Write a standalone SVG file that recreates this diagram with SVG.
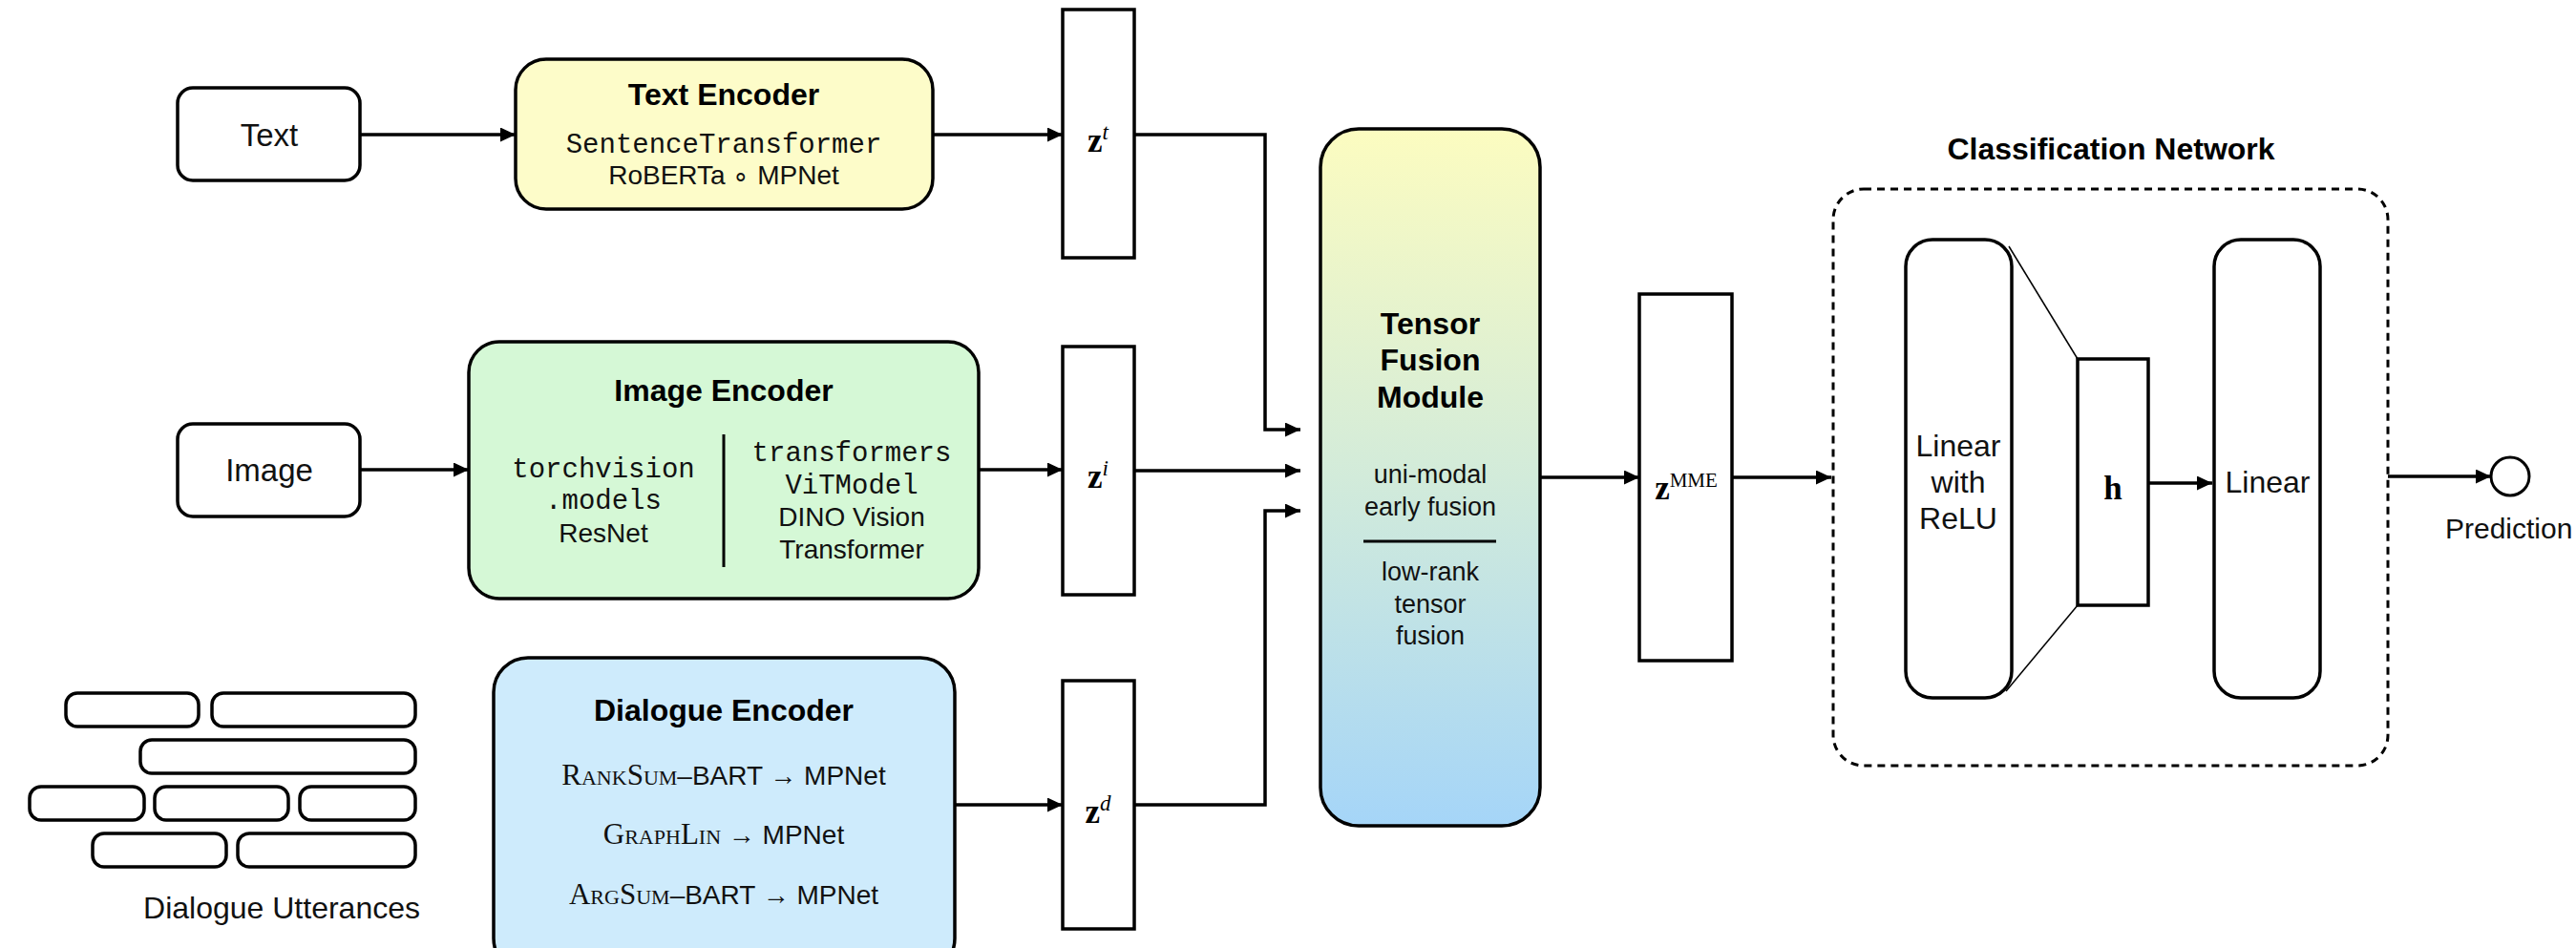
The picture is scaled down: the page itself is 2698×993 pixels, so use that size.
<svg xmlns="http://www.w3.org/2000/svg" width="2698" height="993" viewBox="0 0 2698 993">
<style>
.box{stroke:#000;stroke-width:3.5;}
.wb{fill:#fff;stroke:#000;stroke-width:3.5;}
.conn{fill:none;stroke:#000;stroke-width:3.5;}
.thin{fill:none;stroke:#000;stroke-width:1.5;}
.t{font-family:"Liberation Sans",Arial,sans-serif;font-size:28px;fill:#111;text-anchor:middle;}
.t30{font-size:30px;}
.t32{font-size:32px;}
.t33{font-size:33px;}
.t27{font-size:27px;}
.b{font-family:"Liberation Sans",Arial,sans-serif;font-size:32px;font-weight:bold;fill:#000;text-anchor:middle;}
.m{font-family:"Liberation Mono","DejaVu Sans Mono",monospace;font-size:29px;fill:#111;text-anchor:middle;}
.sc{font-family:"Liberation Serif","Times New Roman",serif;font-variant:small-caps;font-size:31px;}
.z{font-family:"Liberation Serif","Times New Roman",serif;font-size:35px;fill:#000;text-anchor:middle;}
.sup{font-size:23px;font-style:italic;}
.rm{font-size:21px;}
</style>
<defs>
<marker id="arr" markerUnits="userSpaceOnUse" markerWidth="17" markerHeight="16" refX="16" refY="7.5" orient="auto">
<path d="M0,0 L16,7.5 L0,15 z" fill="#000"/>
</marker>
<linearGradient id="fg" x1="0" y1="0" x2="0" y2="1">
<stop offset="0" stop-color="#FCFCC0"/>
<stop offset="0.5" stop-color="#D2EBDA"/>
<stop offset="1" stop-color="#A5D5F8"/>
</linearGradient>
</defs>
<rect width="2698" height="993" fill="#fff"/>

<g id="connectors">
<line class="conn" x1="377" y1="141" x2="540" y2="141" marker-end="url(#arr)"/>
<line class="conn" x1="977" y1="141" x2="1113" y2="141" marker-end="url(#arr)"/>
<line class="conn" x1="377" y1="492" x2="491" y2="492" marker-end="url(#arr)"/>
<line class="conn" x1="1025" y1="492" x2="1113" y2="492" marker-end="url(#arr)"/>
<line class="conn" x1="1000" y1="843" x2="1113" y2="843" marker-end="url(#arr)"/>
<path class="conn" d="M1188,141 H1325 V450 H1362" marker-end="url(#arr)"/>
<path class="conn" d="M1188,493 H1362" marker-end="url(#arr)"/>
<path class="conn" d="M1188,843 H1325 V535 H1362" marker-end="url(#arr)"/>
<path class="conn" d="M1613,500 H1717" marker-end="url(#arr)"/>
<path class="conn" d="M1814,500 H1918" marker-end="url(#arr)"/>
<path class="conn" d="M2250,506 H2317" marker-end="url(#arr)"/>
<path class="conn" d="M2501,499 H2609" marker-end="url(#arr)"/>
<line class="thin" x1="2104" y1="258" x2="2176" y2="376"/>
<line class="thin" x1="2101" y1="724" x2="2176" y2="634"/>
</g>

<g id="text-input">
<rect class="wb" x="186" y="92" width="191" height="97" rx="16"/>
<text class="t t33" x="282" y="153">Text</text>
</g>
<g id="image-input">
<rect class="wb" x="186" y="444" width="191" height="97" rx="16"/>
<text class="t t33" x="282" y="504">Image</text>
</g>

<g id="dialogue-utterances">
<rect class="wb" x="69" y="726" width="139" height="35" rx="12" stroke-width="3"/>
<rect class="wb" x="222" y="726" width="213" height="35" rx="12" stroke-width="3"/>
<rect class="wb" x="147" y="775" width="288" height="35" rx="12" stroke-width="3"/>
<rect class="wb" x="31" y="824" width="120" height="35" rx="12" stroke-width="3"/>
<rect class="wb" x="162" y="824" width="140" height="35" rx="12" stroke-width="3"/>
<rect class="wb" x="314" y="824" width="121" height="35" rx="12" stroke-width="3"/>
<rect class="wb" x="97" y="873" width="140" height="35" rx="12" stroke-width="3"/>
<rect class="wb" x="249" y="873" width="186" height="35" rx="12" stroke-width="3"/>
<text class="t t32" x="295" y="962">Dialogue Utterances</text>
</g>

<g id="text-encoder">
<rect class="box" x="540" y="62" width="437" height="157" rx="32" fill="#FDFCC9"/>
<text class="b" x="758" y="110">Text Encoder</text>
<text class="m" x="758" y="160">SentenceTransformer</text>
<text class="t" x="758" y="193">RoBERTa ∘ MPNet</text>
</g>

<g id="image-encoder">
<rect class="box" x="491" y="358" width="534" height="269" rx="32" fill="#D5F8D6"/>
<text class="b" x="758" y="420">Image Encoder</text>
<line x1="758" y1="455" x2="758" y2="594" stroke="#000" stroke-width="3"/>
<text class="m" x="632" y="500">torchvision</text>
<text class="m" x="632" y="533">.models</text>
<text class="t" x="632" y="568">ResNet</text>
<text class="m" x="892" y="483">transformers</text>
<text class="m" x="892" y="517">ViTModel</text>
<text class="t" x="892" y="551">DINO Vision</text>
<text class="t" x="892" y="585">Transformer</text>
</g>

<g id="dialogue-encoder">
<rect class="box" x="517" y="689" width="483" height="330" rx="36" fill="#CEEBFC"/>
<text class="b" x="758" y="755">Dialogue Encoder</text>
<text class="t" x="758" y="822"><tspan class="sc">RankSum</tspan>–BART → MPNet</text>
<text class="t" x="758" y="884"><tspan class="sc">GraphLin</tspan> → MPNet</text>
<text class="t" x="758" y="947"><tspan class="sc">ArgSum</tspan>–BART → MPNet</text>
</g>

<g id="zt">
<rect class="wb" x="1113" y="10" width="75" height="260"/>
<text class="z" x="1150" y="159"><tspan font-weight="bold">z</tspan><tspan class="sup" dy="-13">t</tspan></text>
</g>
<g id="zi">
<rect class="wb" x="1113" y="363" width="75" height="260"/>
<text class="z" x="1150" y="511"><tspan font-weight="bold">z</tspan><tspan class="sup" dy="-13">i</tspan></text>
</g>
<g id="zd">
<rect class="wb" x="1113" y="713" width="75" height="260"/>
<text class="z" x="1150" y="862"><tspan font-weight="bold">z</tspan><tspan class="sup" dy="-13">d</tspan></text>
</g>

<g id="fusion">
<rect class="box" x="1383" y="135" width="230" height="730" rx="40" fill="url(#fg)"/>
<text class="b" x="1498" y="350">Tensor</text>
<text class="b" x="1498" y="388">Fusion</text>
<text class="b" x="1498" y="427">Module</text>
<text class="t t27" x="1498" y="506">uni-modal</text>
<text class="t t27" x="1498" y="540">early fusion</text>
<line x1="1428" y1="567" x2="1567" y2="567" stroke="#000" stroke-width="3"/>
<text class="t t27" x="1498" y="608">low-rank</text>
<text class="t t27" x="1498" y="642">tensor</text>
<text class="t t27" x="1498" y="675">fusion</text>
</g>

<g id="zmme">
<rect class="wb" x="1717" y="308" width="97" height="384"/>
<text class="z" x="1766" y="523"><tspan font-weight="bold">z</tspan><tspan class="rm" dy="-13">MME</tspan></text>
</g>

<g id="classification-network">
<rect x="1920" y="198" width="581" height="604" rx="32" fill="none" stroke="#000" stroke-width="3" stroke-dasharray="8,6"/>
<text class="b" x="2211" y="167">Classification Network</text>
</g>
<g id="linear-relu">
<rect class="wb" x="1996" y="251" width="111" height="480" rx="28"/>
<text class="t t32" x="2051" y="478">Linear</text>
<text class="t t32" x="2051" y="516">with</text>
<text class="t t32" x="2051" y="554">ReLU</text>
</g>
<g id="h">
<rect class="wb" x="2176" y="376" width="74" height="258"/>
<text class="z" x="2213" y="523" font-weight="bold">h</text>
</g>
<g id="linear">
<rect class="wb" x="2319" y="251" width="111" height="480" rx="28"/>
<text class="t t32" x="2375" y="516">Linear</text>
</g>
<g id="prediction">
<circle cx="2629" cy="499" r="20" fill="#fff" stroke="#000" stroke-width="3"/>
<text class="t t30" x="2561" y="564" style="text-anchor:start">Prediction</text>
</g>
</svg>
